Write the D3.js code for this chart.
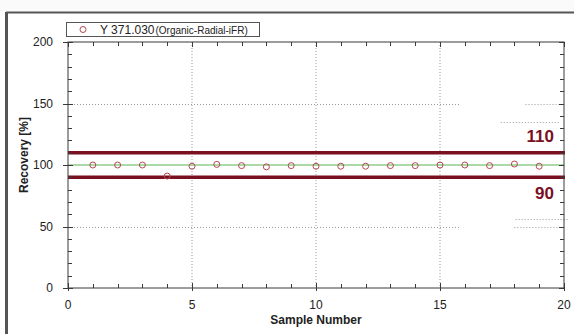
<!DOCTYPE html>
<html><head><meta charset="utf-8">
<script src="https://cdn.jsdelivr.net/npm/d3@7"></script>
<style>
html,body{margin:0;padding:0;background:#fff;}
svg{display:block;font-family:"Liberation Sans",Arial,sans-serif;}
</style></head>
<body>
<svg id="c" width="574" height="334"></svg>
<script>
// ---- data ----
const sampleNumbers = [1,2,3,4,5,6,7,8,9,10,11,12,13,14,15,16,17,18,19];
const recoveryValues = [100,100,100,91,99,100.5,99.5,98.5,99.5,99,99,99,99.5,99.5,100,100,99.5,100.8,99];
const xTicks = [0,5,10,15,20];
const yTicks = [0,50,100,150,200];
const limitValues = [110,90];
const limitLabels = ["110","90"];
const targetValue = [100];
const seriesLabel = "Y 371.030";
const seriesSubLabel = "(Organic-Radial-iFR)";
const xTitle = "Sample Number";
const yTitle = "Recovery [%]";
// dotted grid fragments: [yValue, xFrom, xTo]
const hGridSegments = [[150,0,15.8],[150,18.45,20],[135,17.45,19.8],[50,0,15.8],[50,18,20],[56,18.05,20.2]];
const vGridValues = [5,10,15];

// ---- layout ----
const svg = d3.select("#c");
const L = 68, R = 564, T = 42, B = 288;
const x = d3.scaleLinear().domain([0,20]).range([L,R]);
const y = d3.scaleLinear().domain([0,200]).range([B,T]);
const axisCol = "#3a3a3a";
const limitCol = "#7a0f1f";
const ptCol = "#b5474f";

// window frame
svg.append("line").attr("x1",6).attr("x2",574).attr("y1",12.5).attr("y2",12.5).attr("stroke","#555").attr("stroke-width",2);
svg.append("rect").attr("x",0).attr("y",0).attr("width",574).attr("height",11).attr("fill","#fafafa");
svg.append("line").attr("x1",6.5).attr("x2",6.5).attr("y1",12).attr("y2",334).attr("stroke","#555").attr("stroke-width",3);

// grid
const g = svg.append("g");
g.selectAll("line.v").data(vGridValues).join("line")
  .attr("x1",d=>x(d)).attr("x2",d=>x(d)).attr("y1",T).attr("y2",B)
  .attr("stroke","#9a9a9a").attr("stroke-width",1).attr("stroke-dasharray","1,2");
g.selectAll("line.h").data(hGridSegments).join("line")
  .attr("x1",d=>x(d[1])).attr("x2",d=>x(d[2])).attr("y1",d=>Math.round(y(d[0]))+0.5).attr("y2",d=>Math.round(y(d[0]))+0.5)
  .attr("stroke","#9a9a9a").attr("stroke-width",1).attr("stroke-dasharray","1,2");

// target line
svg.selectAll("line.t").data(targetValue).join("line")
  .attr("x1",x(0)).attr("x2",x(20)).attr("y1",d=>y(d)).attr("y2",d=>y(d))
  .attr("stroke","#8fcc8a").attr("stroke-width",1.5);

// limit lines
svg.selectAll("line.lim").data(limitValues).join("line")
  .attr("x1",x(0)).attr("x2",x(20)+1).attr("y1",d=>y(d)).attr("y2",d=>y(d))
  .attr("stroke",limitCol).attr("stroke-width",3.5);
svg.selectAll("text.lim").data(limitValues).join("text")
  .attr("x",554).attr("y",(d,i)=> i===0 ? y(d)-11 : y(d)+22)
  .attr("text-anchor","end").attr("font-size",17).attr("font-weight","bold").attr("fill",limitCol)
  .text((d,i)=>limitLabels[i]);

// axes (box with ticks)
const minorX = d3.range(0,21,1), minorY = d3.range(0,201,10);
const ax = svg.append("g").attr("stroke",axisCol).attr("stroke-width",1);
ax.append("rect").attr("x",L).attr("y",T).attr("width",R-L).attr("height",B-T).attr("fill","none").attr("stroke",axisCol);
// left axis ticks
ax.selectAll("line.yl").data(minorY).join("line")
  .attr("x1",d=> yTicks.includes(d)? L-5 : L).attr("x2",d=> yTicks.includes(d)? L+5 : L+4)
  .attr("y1",d=>Math.round(y(d))+0.5).attr("y2",d=>Math.round(y(d))+0.5);
// right axis ticks
ax.selectAll("line.yr").data(minorY).join("line")
  .attr("x1",R).attr("x2",d=> yTicks.includes(d)? R-5 : R-4)
  .attr("y1",d=>Math.round(y(d))+0.5).attr("y2",d=>Math.round(y(d))+0.5);
// bottom ticks
ax.selectAll("line.xb").data(minorX).join("line")
  .attr("x1",d=>Math.round(x(d))+0.5).attr("x2",d=>Math.round(x(d))+0.5)
  .attr("y1",d=> xTicks.includes(d)? B+3 : B).attr("y2",d=> xTicks.includes(d)? B-5 : B-4);
// top ticks
ax.selectAll("line.xt").data(minorX).join("line")
  .attr("x1",d=>Math.round(x(d))+0.5).attr("x2",d=>Math.round(x(d))+0.5)
  .attr("y1",T).attr("y2",d=> xTicks.includes(d)? T+5 : T+4);

// tick labels
svg.selectAll("text.yt").data(yTicks).join("text")
  .attr("x",53).attr("y",d=>y(d)+4).attr("text-anchor","end").attr("font-size",12).attr("fill","#222").text(d=>d);
svg.selectAll("text.xt").data(xTicks).join("text")
  .attr("x",d=>x(d)).attr("y",309).attr("text-anchor","middle").attr("font-size",12).attr("fill","#222").text(d=>d);

// titles
svg.append("text").attr("x",316).attr("y",324).attr("text-anchor","middle").attr("font-size",12).attr("font-weight","bold").attr("fill","#222").text(xTitle);
svg.append("text").attr("transform","translate(28,155) rotate(-90)").attr("text-anchor","middle").attr("font-size",12).attr("font-weight","bold").attr("fill","#222").text(yTitle);

// points
svg.selectAll("circle.p").data(sampleNumbers).join("circle")
  .attr("cx",d=>x(d)).attr("cy",(d,i)=>y(recoveryValues[i])).attr("r",3)
  .attr("fill","none").attr("stroke",ptCol).attr("stroke-width",1);

// legend
const lg = svg.append("g");
lg.append("rect").attr("x",66.5).attr("y",22.5).attr("width",193).attr("height",14).attr("fill","#fff").attr("stroke","#555");
lg.append("circle").attr("cx",83).attr("cy",29.5).attr("r",3).attr("fill","none").attr("stroke",ptCol);
const lt = lg.append("text").attr("x",100).attr("y",34).attr("fill","#222");
lt.append("tspan").attr("font-size",12).text(seriesLabel);
lt.append("tspan").attr("font-size",10).attr("dx",1).text(seriesSubLabel);
</script>
</body></html>
